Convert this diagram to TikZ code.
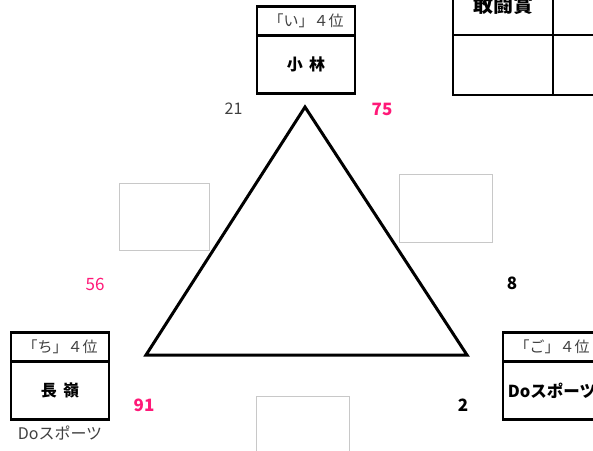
\documentclass[tikz,border=0pt]{standalone}
\usepackage{fontspec}
\setmainfont{Noto Sans CJK JP}
\usepackage{tikz}
\usetikzlibrary{positioning}
\definecolor{RankPink}{RGB}{255,25,120}
\definecolor{TextGray}{RGB}{64,64,64}
\definecolor{MemoGray}{RGB}{200,200,200}
\tikzset{
  head/.style={draw=black,line width=2.9pt,outer sep=0pt,inner sep=0pt,
               minimum width=98pt,minimum height=29pt,
               font=\fontsize{15}{17}\selectfont,text=TextGray},
  body/.style={head,minimum height=58pt,
               font=\fontsize{16}{18}\selectfont\bfseries,text=black},
  cell/.style={draw=black,line width=2.9pt,outer sep=0pt,inner sep=0pt,
               minimum width=100pt,minimum height=60pt},
  memo/.style={draw=MemoGray,line width=1pt,inner sep=0pt,
               minimum width=91pt,minimum height=68pt},
  score/.style={inner sep=0pt,font=\fontsize{17}{19}\selectfont\bfseries},
  hit/.style={score,text=RankPink},
  plainscore/.style={inner sep=0pt,font=\fontsize{16}{18}\selectfont,text=TextGray},
  edge/.style={line width=3pt,line join=miter},
}
\begin{document}
\begin{tikzpicture}[x=1pt,y=-1pt]
  \useasboundingbox (0,0) rectangle (593,450);
  \clip (0,0) rectangle (593,450);
  % triangle
  \coordinate (apex) at (305,107);
  \coordinate (baseL) at (146,355);
  \coordinate (baseR) at (467,355);
  \draw[edge] (apex) -- (baseL) -- (baseR) -- cycle;
  % name boxes
  \node[head] (kobaHead) at (306,21) {「い」４位};
  \node[body,below=0pt of kobaHead] (kobaBody) {小\hspace{0.4em}林};
  \node[head] (nagaHead) at (60,347) {「ち」４位};
  \node[body,below=0pt of nagaHead] (nagaBody) {長\hspace{0.4em}嶺};
  \node[plainscore,below=6pt of nagaBody] (nagaTeam) {Doスポーツ};
  \node[head] (goHead) at (552,347) {「ご」４位};
  \node[body,below=0pt of goHead,font=\fontsize{16.5}{18}\selectfont\bfseries] (goBody) {Doスポーツ};
  % award table
  \node[cell,font=\fontsize{20}{22}\selectfont\bfseries] (award) at (503,5) {敢闘賞};
  \node[cell,right=0pt of award] (awardR) {};
  \node[cell,below=0pt of award] (awardL2) {};
  \node[cell,below=0pt of awardR] (awardR2) {};
  % memo boxes
  \node[memo,minimum width=90pt,minimum height=67pt] (memoL) at (164,216.5) {};
  \node[memo,minimum width=93pt] (memoR) at (445.5,208) {};
  \node[memo,minimum width=93pt] (memoB) at (302.5,430) {};
  % scores
  \node[plainscore] (s21) at (233.5,109) {21};
  \node[hit] (s75) at (382,109) {75};
  \node[hit,font=\fontsize{17}{19}\selectfont\mdseries] (s56) at (95,284) {56};
  \node[score] (s8) at (512,283) {8};
  \node[hit] (s91) at (144,405) {91};
  \node[score] (s2) at (463,405) {2};
\end{tikzpicture}
\end{document}
